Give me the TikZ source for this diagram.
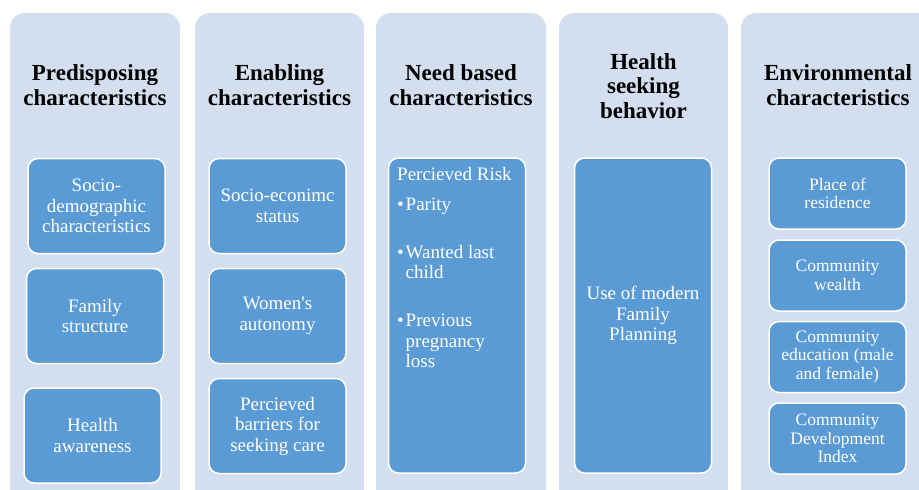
\documentclass[tikz,border=0pt]{standalone}
\usepackage{fontspec}
\setmainfont{Liberation Serif}[Ligatures=TeXOff]
\definecolor{colbg}{RGB}{211,222,239}
\definecolor{boxblue}{RGB}{91,155,213}
\begin{document}
\begin{tikzpicture}[x=1pt,y=-1pt,
    column/.style={fill=colbg, rounded corners=15pt},
    head/.style={font=\fontsize{23}{24.5}\selectfont\bfseries, align=center, inner sep=0pt},
    item/.style={draw=white, line width=1.5pt, fill=boxblue, rounded corners=10pt,
      text=white, align=center, inner sep=0pt, minimum width=137pt, minimum height=95pt,
      font=\fontsize{19}{20.5}\selectfont},
    small/.style={minimum height=71pt, font=\fontsize{17.5}{18.5}\selectfont}]
  \useasboundingbox (0,0) rectangle (919,490);
  \clip (0,0) rectangle (919,490);
  % column backgrounds
  \fill[column] (10,13) rectangle (180,530);
  \fill[column] (195,13) rectangle (364,530);
  \fill[column] (376,13) rectangle (546,530);
  \fill[column] (559,13) rectangle (728,530);
  \fill[column] (741,13) rectangle (940,530);
  % headings
  \node[head] (h1) at (95,85) {Predisposing\\characteristics};
  \node[head] (h2) at (279.5,85) {Enabling\\characteristics};
  \node[head] (h3) at (461,85) {Need based\\characteristics};
  \node[head] (h4) at (643.5,86) {Health\\seeking\\behavior};
  \node[head] (h5) at (838,85) {Environmental\\characteristics};
  % boxes
  \node[item] (pre1) at (96.5,206) {Socio-\\demographic\\characteristics};
  \node[item] (pre2) at (95,316) {Family\\structure};
  \node[item] (pre3) at (92.5,435.5) {Health\\awareness};
  \node[item] (ena1) at (277.5,206) {Socio-econimc\\status};
  \node[item] (ena2) at (277.5,316) {Women's\\autonomy};
  \node[item] (ena3) at (277.5,426) {Percieved\\barriers for\\seeking care};
  \node[item, minimum height=315pt] (need) at (457,315.5) {};
  \node[anchor=north west, align=left, inner sep=0pt, text=white,
    font=\fontsize{19}{20.5}\selectfont] (risk) at (397,167)
    {Percieved Risk\\[9.5pt]
     \makebox[8.5pt][l]{\textbullet}Parity\\[27.5pt]
     \makebox[8.5pt][l]{\textbullet}Wanted last\\
     \hspace*{8.5pt}child\\[27.5pt]
     \makebox[8.5pt][l]{\textbullet}Previous\\
     \hspace*{8.5pt}pregnancy\\
     \hspace*{8.5pt}loss};
  \node[item, minimum height=315pt] (use) at (643,315.5) {Use of modern\\Family\\Planning};
  \node[item, small] (env1) at (837.5,193.5) {Place of\\residence};
  \node[item, small] (env2) at (837.5,275.5) {Community\\wealth};
  \node[item, small] (env3) at (837.5,357) {Community\\education (male\\and female)};
  \node[item, small] (env4) at (837.5,438.5) {Community\\Development\\Index};
\end{tikzpicture}
\end{document}
